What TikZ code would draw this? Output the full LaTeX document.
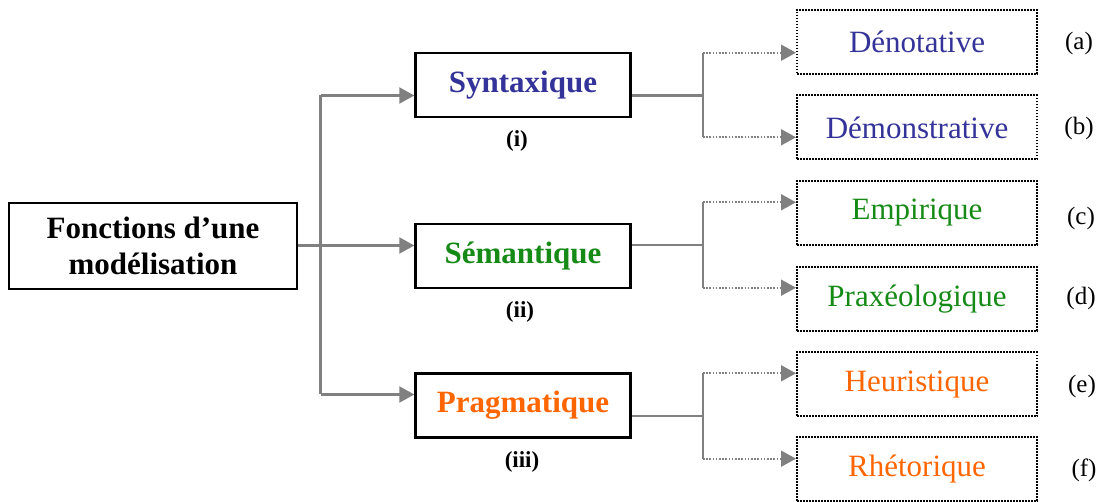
\documentclass[tikz,border=0pt]{standalone}
\usepackage{fontspec}
\setmainfont{Liberation Serif}
\usetikzlibrary{arrows.meta}
\definecolor{cblue}{HTML}{333399}
\definecolor{cgreen}{HTML}{168A16}
\definecolor{corange}{HTML}{FF6600}
\definecolor{lgray}{HTML}{808080}
\begin{document}
\begin{tikzpicture}[x=1pt,y=-1pt,
  mainbox/.style={draw=black,line width=2.4pt,inner sep=0pt,font=\fontsize{31}{36}\selectfont\bfseries,align=center},
  funcbox/.style={draw=black,line width=2.4pt,inner sep=0pt,minimum width=215pt,minimum height=64pt,font=\fontsize{31}{36}\selectfont\bfseries},
  leafbox/.style={draw=black,line width=2pt,dash pattern=on 1.6pt off 1.4pt,inner sep=0pt,minimum width=240pt,minimum height=64pt,font=\fontsize{31}{36}\selectfont},
  tag/.style={font=\fontsize{25}{28}\selectfont},
  btag/.style={font=\fontsize{23}{26}\selectfont\bfseries},
  gl/.style={draw=lgray,line width=2.2pt},
  gd/.style={draw=lgray,line width=1.8pt,dash pattern=on 1.6pt off 1.6pt},
  arr/.style={-{Triangle[length=15pt,width=16pt]},lgray}]
\useasboundingbox (0,0) rectangle (1098,502);
% main
\node[mainbox,minimum width=288pt,minimum height=86pt] (main) at (153,246) {Fonctions d’une\\modélisation};
% functions
\node[funcbox,text=cblue] (syn) at (523,85) {Syntaxique};
\node[funcbox,text=cgreen] (sem) at (523,256) {Sémantique};
\node[funcbox,text=corange] (prag) at (523,405.5) {Pragmatique};
\node[btag] (ti) at (517,141) {(i)};
\node[btag] (tii) at (520,312) {(ii)};
\node[btag] (tiii) at (522,462) {(iii)};
% leaves
\node[leafbox,text=cblue] (den) at (917,41.7) {Dénotative};
\node[leafbox,text=cblue] (dem) at (917,127.5) {Démonstrative};
\node[leafbox,text=cgreen] (emp) at (917,213) {Empirique};
\node[leafbox,text=cgreen] (pra) at (917,299) {Praxéologique};
\node[leafbox,text=corange] (heu) at (917,384.5) {Heuristique};
\node[leafbox,text=corange] (rhe) at (917,469) {Rhétorique};
\node[tag] (la) at (1079,43) {(a)};
\node[tag] (lb) at (1079,128) {(b)};
\node[tag] (lc) at (1081,218) {(c)};
\node[tag] (ld) at (1081,298) {(d)};
\node[tag] (le) at (1082,386) {(e)};
\node[tag] (lf) at (1084,470) {(f)};
% trunk
\coordinate (t1) at (320.5,95.5);
\coordinate (t2) at (320.5,245.5);
\coordinate (t3) at (320.5,394.5);
\draw[gl] (t1) -- (t3);
\draw[gl,arr] (main.east |- t2) -- (sem.west |- t2);
\draw[gl,arr] (t1) -- (syn.west |- t1);
\draw[gl,arr] (t3) -- (prag.west |- t3);
% branches
\coordinate (j1) at (703,95.5);
\coordinate (a1) at (703,52.7);
\coordinate (a2) at (703,137.3);
\coordinate (j2) at (703,245.3);
\coordinate (a3) at (703,202.3);
\coordinate (a4) at (703,287.7);
\coordinate (j3) at (703,415.7);
\coordinate (a5) at (703,373.3);
\coordinate (a6) at (703,458.7);
\draw[gl] (syn.east |- j1) -- (j1);
\draw[gl] (sem.east |- j2) -- (j2);
\draw[gl] (prag.east |- j3) -- (j3);
\draw[gl] (a1) -- (a2);
\draw[gl] (a3) -- (a4);
\draw[gl] (a5) -- (a6);
\draw[gd,arr] (a1) -- (den.west |- a1);
\draw[gd,arr] (a2) -- (dem.west |- a2);
\draw[gd,arr] (a3) -- (emp.west |- a3);
\draw[gd,arr] (a4) -- (pra.west |- a4);
\draw[gd,arr] (a5) -- (heu.west |- a5);
\draw[gd,arr] (a6) -- (rhe.west |- a6);
\end{tikzpicture}
\end{document}
